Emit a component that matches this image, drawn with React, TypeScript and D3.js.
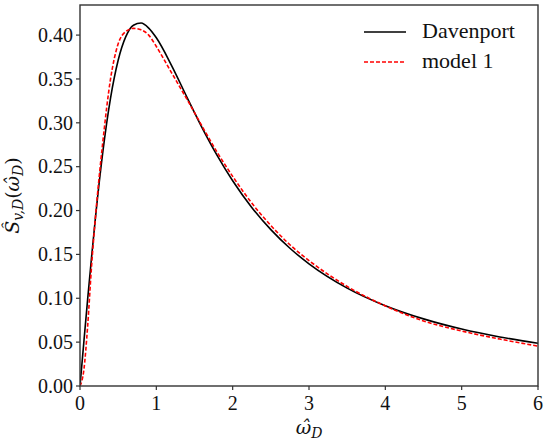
import React from "react";
import * as d3 from "d3";

// values
const omega = [0, 0.05, 0.1, 0.15, 0.2, 0.3, 0.4, 0.5, 0.6, 0.7, 0.8, 0.9, 1.0, 1.2, 1.4, 1.6, 1.8, 2.0, 2.25, 2.5, 2.75, 3.0, 3.5, 4.0, 4.5, 5.0, 5.5, 6.0];
const davenport = [0, 0.0498, 0.0987, 0.1456, 0.1898, 0.2674, 0.3282, 0.3713, 0.3982, 0.4113, 0.4137, 0.408, 0.3969, 0.3653, 0.3294, 0.2943, 0.2623, 0.2339, 0.2035, 0.1782, 0.157, 0.1393, 0.1116, 0.0915, 0.0765, 0.0649, 0.0559, 0.0487];
const model1 = [0, 0.018, 0.068, 0.135, 0.19, 0.279, 0.35, 0.39, 0.404, 0.4077, 0.406, 0.4, 0.387, 0.357, 0.327, 0.296, 0.266, 0.239, 0.2085, 0.183, 0.161, 0.143, 0.1135, 0.0913, 0.0742, 0.0627, 0.0535, 0.0455];
const xTicks = [0, 1, 2, 3, 4, 5, 6];
const yTicks = [0, 0.05, 0.1, 0.15, 0.2, 0.25, 0.3, 0.35, 0.4];
const seriesNames = ["Davenport", "model 1"];

const W = 550, H = 443;
const margin = { top: 5, right: 12, bottom: 57, left: 80 };
const width = W - margin.left - margin.right;
const height = H - margin.top - margin.bottom;
const FONT = "Liberation Serif";
const MATH = "DejaVu Serif";

const x = d3.scaleLinear().domain([0, 6]).range([0, width]);
const y = d3.scaleLinear().domain([0, 0.4343]).range([height, 0]);
const line = d3.line<number>()
  .x((d, i) => x(omega[i]))
  .y(d => y(d))
  .curve(d3.curveMonotoneX);

const series = [
  { name: seriesNames[0], values: davenport, color: "#000", dash: undefined as string | undefined },
  { name: seriesNames[1], values: model1, color: "#ff0000", dash: "4,2" },
];

const App: React.FC = () => (
  <div style={{ position: "absolute", left: 0, top: 0 }}>
    <svg width={W} height={H} style={{ display: "block", background: "#fff" }}>
      <defs>
        <clipPath id="plotclip">
          <rect width={width} height={height} />
        </clipPath>
      </defs>
      <g transform={`translate(${margin.left},${margin.top})`}>
        {series.map(s => (
          <path key={s.name} d={line(s.values) || ""} fill="none" stroke={s.color}
            strokeWidth={1.6} strokeDasharray={s.dash} clipPath="url(#plotclip)" />
        ))}
        {xTicks.map(t => (
          <g key={t} transform={`translate(${x(t)},${height})`}>
            <line y2={4} stroke="#333" strokeWidth={1.2} />
            <text y={24} textAnchor="middle" fontFamily={FONT} fontSize={20} fill="#111">{d3.format("d")(t)}</text>
          </g>
        ))}
        {yTicks.map(t => (
          <g key={t} transform={`translate(0,${y(t)})`}>
            <line x2={-4} stroke="#333" strokeWidth={1.2} />
            <text x={-7} dy="0.34em" textAnchor="end" fontFamily={FONT} fontSize={20} fill="#111">{d3.format(".2f")(t)}</text>
          </g>
        ))}
        <rect width={width} height={height} fill="none" stroke="#333" strokeWidth={1.4} />
      </g>
      <g transform="translate(364,32)">
        {series.map((s, i) => (
          <g key={s.name} transform={`translate(0,${i * 30})`}>
            <line x2={42} stroke={s.color} strokeWidth={1.6} strokeDasharray={s.dash} />
            <text x={58} y={6} fontFamily={FONT} fontSize={22} fill="#111">{s.name}</text>
          </g>
        ))}
      </g>
      <text x={margin.left + width / 2} y={434} textAnchor="middle" fontFamily={MATH} fontSize={19} fill="#111">
        <tspan fontStyle="italic">{"\u03C9\u0302"}</tspan>
        <tspan fontStyle="italic" fontSize={14} dy={4}>D</tspan>
      </text>
      <text transform={`translate(19,${margin.top + height / 2}) rotate(-90)`} textAnchor="middle"
        fontFamily={MATH} fontSize={19} fill="#111">
        <tspan fontStyle="italic">{"S\u0302"}</tspan>
        <tspan fontStyle="italic" fontSize={14} dy={4}>v,D</tspan>
        <tspan dy={-4}>(</tspan>
        <tspan fontStyle="italic">{"\u03C9\u0302"}</tspan>
        <tspan fontStyle="italic" fontSize={14} dy={4}>D</tspan>
        <tspan dy={-4}>)</tspan>
      </text>
    </svg>
  </div>
);

export default App;
